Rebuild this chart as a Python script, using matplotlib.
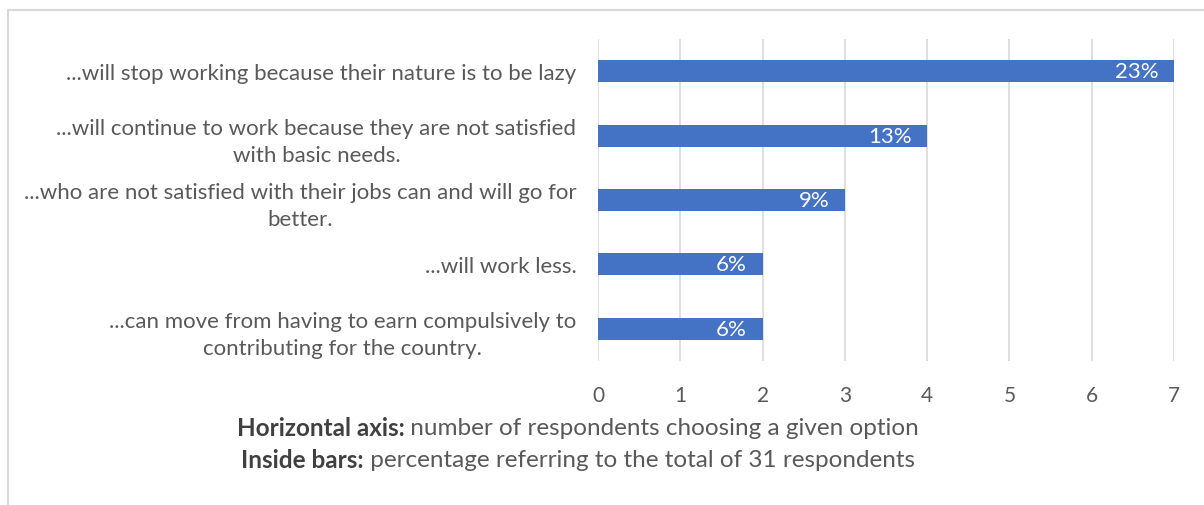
import matplotlib
matplotlib.use("Agg")
import matplotlib.pyplot as plt
from matplotlib.patches import Rectangle

plt.rcParams['font.family'] = ['Lato', 'DejaVu Sans']

labels = [
    "...will stop working because their nature is to be lazy",
    "...will continue to work because they are not satisfied\nwith basic needs.",
    "...who are not satisfied with their jobs can and will go for\nbetter.",
    "...will work less.",
    "...can move from having to earn compulsively to\ncontributing for the country.",
]
counts = [7, 4, 3, 2, 2]
shares = ["23%", "13%", "9%", "6%", "6%"]
xticks = [0, 1, 2, 3, 4, 5, 6, 7]

W, H = 1204, 506
fig = plt.figure(figsize=(W / 100, H / 100), dpi=100)

# light frame around the chart area
fig.patches.append(Rectangle((8 / W, -0.1), 1.2, 1 - 11 / H + 0.1,
                             transform=fig.transFigure, fill=False,
                             edgecolor='#d9d9d9', linewidth=1.5))

ax = fig.add_axes([598 / W, 1 - 362 / H, (1174 - 598) / W, (362 - 40) / H])
ypos = list(range(len(labels)))
bars = ax.barh(ypos, counts, height=0.34, color='#4472C4', zorder=3)

for b, s in zip(bars, shares):
    ax.text(b.get_width() - 0.19, b.get_y() + b.get_height() / 2, s,
            ha='right', va='center', color='white', fontsize=16, zorder=4)

ax.set_xlim(0, 7)
ax.set_ylim(len(labels) - 0.5, -0.5)
ax.set_xticks(xticks)
ax.set_yticks(ypos)
ax.set_yticklabels(labels, fontsize=16, color='#595959', multialignment='center',
                   linespacing=1.45)
ax.tick_params(axis='y', length=0, pad=15.5)
ax.tick_params(axis='x', length=0, pad=17, labelsize=15, labelcolor='#595959')
ax.grid(axis='x', color='#d9d9d9', linewidth=1.2, zorder=0)
for sp in ax.spines.values():
    sp.set_visible(False)

# caption lines: bold lead-in followed by plain text, centred as one line
fig.canvas.draw()
r = fig.canvas.get_renderer()
cx = 578 / W
for yy, lead, rest in [(429, "Horizontal axis:", " number of respondents choosing a given option"),
                       (461, "Inside bars:", " percentage referring to the total of 31 respondents")]:
    t1 = fig.text(0, 1 - yy / H, lead, fontsize=17.5, fontweight='bold', color='#404040', va='center')
    t2 = fig.text(0, 1 - yy / H, rest, fontsize=17.5, color='#595959', va='center')
    w1 = t1.get_window_extent(r).width / W
    w2 = t2.get_window_extent(r).width / W
    x0 = cx - (w1 + w2) / 2
    t1.set_x(x0)
    t2.set_x(x0 + w1)

fig.savefig("out.png", dpi=100)
